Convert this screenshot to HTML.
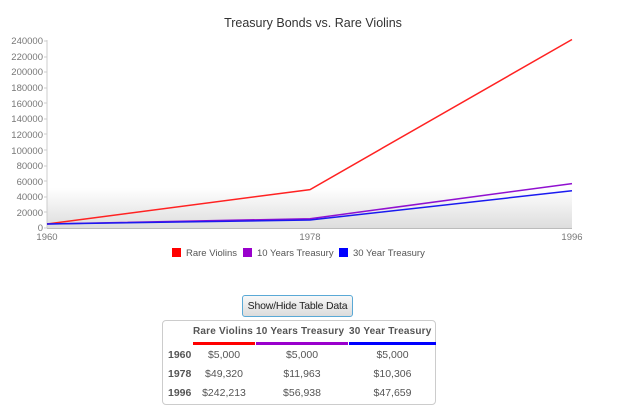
<!DOCTYPE html>
<html><head><style>
body{margin:0;width:627px;height:418px;background:#fff;font-family:"Liberation Sans",sans-serif;position:relative;overflow:hidden}
.btn{position:absolute;left:242px;top:295px;width:111px;height:22px;border:1px solid #5aa9d6;border-radius:3px;background:linear-gradient(#f8f8f8,#dcdcdc);font-size:10.5px;text-align:center;line-height:21px;color:#222;box-sizing:border-box;white-space:nowrap;letter-spacing:-0.2px}
.tbl{position:absolute;left:162px;top:320px;width:274px;height:85px;border:1px solid #ccc;border-radius:4px;box-sizing:border-box;font-size:10.5px;color:#555}
.tbl div{position:absolute;white-space:nowrap}
.h{font-weight:bold;font-size:10px;letter-spacing:0.2px}
</style></head><body>
<svg width="627" height="290" style="position:absolute;left:0;top:0" font-family="Liberation Sans, sans-serif">
<defs><linearGradient id="g" x1="0" y1="0" x2="0" y2="1"><stop offset="0" stop-color="#fff"/><stop offset="1" stop-color="#ddd"/></linearGradient></defs>
<text x="313" y="27" text-anchor="middle" font-size="12.5" fill="#333">Treasury Bonds vs. Rare Violins</text>
<rect x="47" y="188" width="525" height="40" fill="url(#g)"/>
<line x1="47" y1="40" x2="47" y2="228" stroke="#ccc"/>
<line x1="47" y1="228.5" x2="572" y2="228.5" stroke="#bbb"/>
<g font-size="9.5" fill="#777" text-anchor="end">
<text x="43" y="231">0</text><text x="43" y="216">20000</text><text x="43" y="200">40000</text><text x="43" y="185">60000</text><text x="43" y="169">80000</text><text x="43" y="154">100000</text><text x="43" y="138">120000</text><text x="43" y="122">140000</text><text x="43" y="107">160000</text><text x="43" y="91">180000</text><text x="43" y="75">200000</text><text x="43" y="60">220000</text><text x="43" y="44">240000</text>
</g>
<g stroke="#ccc"><line x1="44" y1="228" x2="47" y2="228"/><line x1="44" y1="212" x2="47" y2="212"/><line x1="44" y1="197" x2="47" y2="197"/><line x1="44" y1="181" x2="47" y2="181"/><line x1="44" y1="166" x2="47" y2="166"/><line x1="44" y1="150" x2="47" y2="150"/><line x1="44" y1="134" x2="47" y2="134"/><line x1="44" y1="119" x2="47" y2="119"/><line x1="44" y1="103" x2="47" y2="103"/><line x1="44" y1="88" x2="47" y2="88"/><line x1="44" y1="72" x2="47" y2="72"/><line x1="44" y1="57" x2="47" y2="57"/><line x1="44" y1="41" x2="47" y2="41"/></g>
<g font-size="9.5" fill="#777" text-anchor="middle"><text x="47" y="240">1960</text><text x="310" y="240">1978</text><text x="572" y="240">1996</text></g>
<polyline points="47,224 310,189.6 572,39.5" fill="none" stroke="#f22" stroke-width="1.5"/>
<polyline points="47,224 310,218.7 572,183.6" fill="none" stroke="#9010d0" stroke-width="1.5"/>
<polyline points="47,224 310,220 572,190.8" fill="none" stroke="#1a1af0" stroke-width="1.5"/>
<g font-size="9.5" fill="#555">
<rect x="172" y="248" width="9" height="9" fill="#f00"/><text x="186" y="256">Rare Violins</text>
<rect x="243" y="248" width="9" height="9" fill="#90c"/><text x="257" y="256">10 Years Treasury</text>
<rect x="339" y="248" width="9" height="9" fill="#00f"/><text x="353" y="256">30 Year Treasury</text>
</g>
</svg>
<div class="btn">Show/Hide Table Data</div>
<div class="tbl">
<div class="h" style="left:30px;top:5px">Rare Violins</div>
<div class="h" style="left:93px;top:5px">10 Years Treasury</div>
<div class="h" style="left:186px;top:5px">30 Year Treasury</div>
<div style="left:30px;top:21px;width:62px;height:3px;background:#f00"></div>
<div style="left:93px;top:21px;width:92px;height:3px;background:#90c"></div>
<div style="left:186px;top:21px;width:87px;height:3px;background:#00f"></div>
<div style="left:5px;top:28px;font-weight:bold">1960</div><div style="left:30px;top:28px;width:62px;text-align:center">$5,000</div><div style="left:93px;top:28px;width:92px;text-align:center">$5,000</div><div style="left:186px;top:28px;width:87px;text-align:center">$5,000</div>
<div style="left:5px;top:47px;font-weight:bold">1978</div><div style="left:30px;top:47px;width:62px;text-align:center">$49,320</div><div style="left:93px;top:47px;width:92px;text-align:center">$11,963</div><div style="left:186px;top:47px;width:87px;text-align:center">$10,306</div>
<div style="left:5px;top:66px;font-weight:bold">1996</div><div style="left:30px;top:66px;width:62px;text-align:center">$242,213</div><div style="left:93px;top:66px;width:92px;text-align:center">$56,938</div><div style="left:186px;top:66px;width:87px;text-align:center">$47,659</div>
</div>
</body></html>
